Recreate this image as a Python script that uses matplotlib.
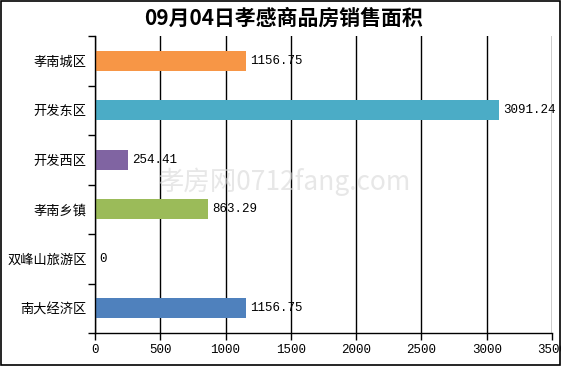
import matplotlib

matplotlib.use("Agg")
import matplotlib.pyplot as plt
import numpy as np

plt.rcParams["font.family"] = ["Noto Sans CJK SC", "DejaVu Sans"]

title = "09月04日孝感商品房销售面积"
districts = ["孝南城区", "开发东区", "开发西区", "孝南乡镇", "双峰山旅游区", "南大经济区"]
areas = [1156.75, 3091.24, 254.41, 863.29, 0, 1156.75]
labels = ["1156.75", "3091.24", "254.41", "863.29", "0", "1156.75"]
colors = ["#F79646", "#4BACC6", "#8064A2", "#9BBB59", "#4F81BD", "#4F81BD"]
xticks = [0, 500, 1000, 1500, 2000, 2500, 3000, 3500]

fig = plt.figure(figsize=(5.61, 3.66), dpi=100)
ax = fig.add_axes([95 / 561, 1 - 333 / 366, (552 - 95) / 561, (333 - 36) / 366])

ypos = np.arange(len(districts))[::-1]
ax.barh(ypos, areas, height=0.4, color=colors, zorder=3)
for y, v, t in zip(ypos, areas, labels):
    ax.annotate(t, (v, y), xytext=(3, 0), textcoords="offset points",
                va="center", ha="left", fontsize=9, family="Liberation Mono",
                zorder=4)

ax.set_xlim(0, 3500)
ax.set_ylim(-0.5, len(districts) - 0.5)
ax.set_xticks(xticks)
ax.set_xticklabels([str(t) for t in xticks], fontsize=9, family="Liberation Mono")
ax.set_yticks(ypos)
ax.set_yticklabels(districts, fontsize=9.5)
ax.tick_params(axis="y", length=0, pad=6)
ax.tick_params(axis="x", length=5, width=1, color="black", pad=3)
ax.set_yticks(np.arange(-0.5, len(districts), 1.0), minor=True)
ax.tick_params(axis="y", which="minor", length=5, width=1, color="black")
ax.grid(axis="x", color="black", linewidth=1, zorder=1)
for side in ["top", "right"]:
    ax.spines[side].set_visible(False)
for side in ["left", "bottom"]:
    ax.spines[side].set_linewidth(1)
    ax.spines[side].set_zorder(5)

fig.text(0.505, 1 - 18 / 366, title, ha="center", va="center",
         fontsize=15, fontweight="bold")
fig.text(0.505, 1 - 182 / 366, "孝房网0712fang.com", ha="center", va="center",
         fontsize=19, color="#d8d8d8", alpha=0.6, zorder=0)

border = plt.Rectangle((0.001, 0.002), 0.997, 0.995, transform=fig.transFigure,
                       fill=False, edgecolor="black", linewidth=1.2)
fig.patches.append(border)

fig.savefig("out.png", dpi=100)
